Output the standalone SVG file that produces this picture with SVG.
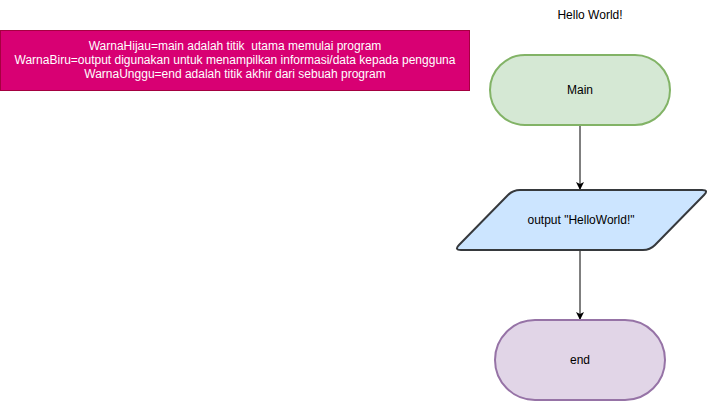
<svg xmlns="http://www.w3.org/2000/svg" width="710" height="401" viewBox="0 0 710 401">
<defs>
<style>
text{font-family:"Liberation Sans",Arial,sans-serif;font-size:12px;text-anchor:middle;dominant-baseline:central;fill:#000}
.w{fill:#fff;white-space:pre}
.conn{stroke:#000;stroke-width:1;fill:none}
</style>
<marker id="arr" markerWidth="10" markerHeight="10" refX="7" refY="4" orient="auto" markerUnits="userSpaceOnUse"><path d="M0,0 L8,4 L0,8 L2,4 Z" fill="#000"/></marker>
</defs>
<rect width="710" height="401" fill="#fff"/>
<g id="title"><text x="590" y="15">Hello World!</text></g>
<g id="note">
<rect x="0.5" y="30.5" width="469" height="60" fill="#d80073" stroke="#a50040"/>
<text class="w" x="235" y="46" xml:space="preserve">WarnaHijau=main adalah titik  utama memulai program</text>
<text class="w" x="235" y="60">WarnaBiru=output digunakan untuk menampilkan informasi/data kepada pengguna</text>
<text class="w" x="235" y="74">WarnaUnggu=end adalah titik akhir dari sebuah program</text>
</g>
<g id="connectors">
<path class="conn" d="M580,126 L580,189" marker-end="url(#arr)"/>
<path class="conn" d="M580,250 L580,319" marker-end="url(#arr)"/>
</g>
<g id="main">
<rect x="490" y="55" width="180" height="70" rx="35" ry="35" fill="#d5e8d4" stroke="#82b366" stroke-width="2"/>
<text x="580" y="90">Main</text>
</g>
<g id="output">
<path d="M520,190 L702,190 Q709,190 704,195 L655,245 Q650,250 643,250 L461,250 Q454,250 459,245 L508,195 Q513,190 520,190 Z" fill="#cce5ff" stroke="#36393d" stroke-width="2"/>
<text x="581" y="220">output "HelloWorld!"</text>
</g>
<g id="end">
<rect x="495" y="320" width="170" height="80" rx="40" ry="40" fill="#e1d5e7" stroke="#9673a6" stroke-width="2"/>
<text x="580" y="360">end</text>
</g>
</svg>
